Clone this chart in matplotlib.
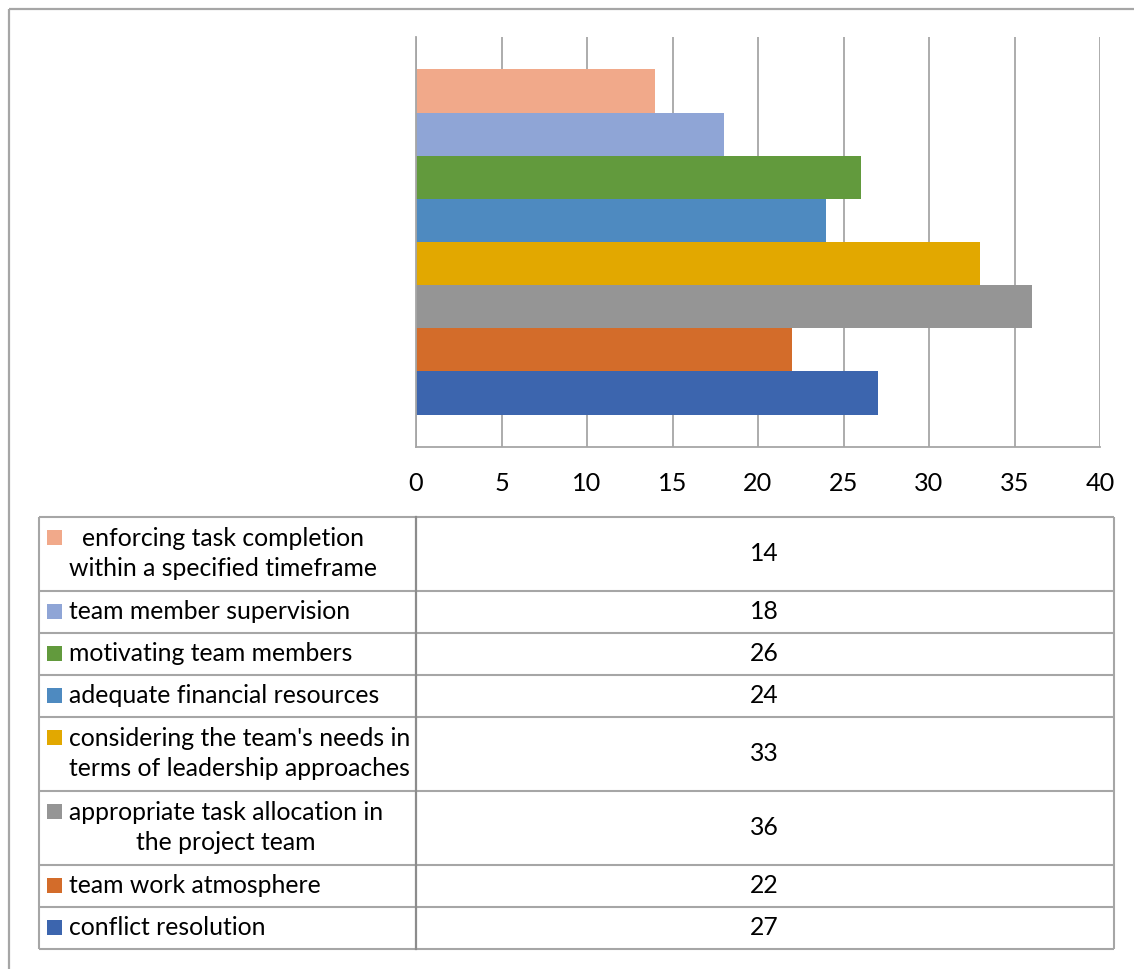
import matplotlib
matplotlib.use("Agg")
import matplotlib.pyplot as plt
from matplotlib.patches import Rectangle

plt.rcParams["font.family"] = ["Lato", "DejaVu Sans"]

# categories, top to bottom as in the chart and the data table
labels = [
    "enforcing task completion\nwithin a specified timeframe",
    "team member supervision",
    "motivating team members",
    "adequate financial resources",
    "considering the team's needs in\nterms of leadership approaches",
    "appropriate task allocation in\nthe project team",
    "team work atmosphere",
    "conflict resolution",
]
values = [14, 18, 26, 24, 33, 36, 22, 27]
colors = ["#F1A98A", "#8FA5D6", "#629A3D", "#4E8AC0",
          "#E2A800", "#959595", "#D36C2A", "#3C65AE"]
xticks = [0, 5, 10, 15, 20, 25, 30, 35, 40]

W, H = 1134, 969
FS = 17.8
GRID = "#A6A6A6"

fig = plt.figure(figsize=(W / 100, H / 100), dpi=100)

# overlay in pixel coordinates for the frame and the data table
over = fig.add_axes([0, 0, 1, 1], zorder=0)
over.set_xlim(0, W)
over.set_ylim(H, 0)
over.axis("off")
over.plot([8.5, W], [8.5, 8.5], color=GRID, lw=1.6, solid_capstyle="butt")
over.plot([8.5, 8.5], [8.5, H], color=GRID, lw=1.6, solid_capstyle="butt")

# bar chart
ax = fig.add_axes([416 / W, (H - 447) / H, 684 / W, 410 / H], zorder=1)
ax.patch.set_alpha(0)
n = len(values)
pos = [n - 1 - i for i in range(n)]
ax.barh(pos, values, height=1.0, color=colors, zorder=2)
ax.set_xlim(0, 40)
ax.set_ylim(-1.25, n - 1 + 1.25)
ax.set_xticks(xticks)
ax.set_xticklabels([str(t) for t in xticks], fontsize=FS + 0.4)
ax.set_yticks([])
ax.tick_params(axis="x", length=0, pad=18)
ax.grid(axis="x", color=GRID, lw=1.3, zorder=1)
for s in ["top", "right"]:
    ax.spines[s].set_visible(False)
for s in ["left", "bottom"]:
    ax.spines[s].set_color(GRID)
    ax.spines[s].set_linewidth(1.3)

# data table under the chart
x0, xmid, x1 = 38.5, 415.5, 1113.5
y = 516.5
rows = []
for lab in labels:
    h = 10 + 32 * len(lab.split("\n"))
    rows.append((y, h))
    y += h
ytop, ybot = rows[0][0], y
line_kw = dict(color=GRID, lw=1.5, solid_capstyle="butt")
for (r0, h) in rows:
    over.plot([x0, x1], [r0, r0], **line_kw)
over.plot([x0, x1], [ybot, ybot], **line_kw)
over.plot([x0, x0], [ytop, ybot], **line_kw)
over.plot([xmid, xmid], [ytop, ybot], color="#8C8C8C", lw=1.6)
over.plot([x1, x1], [ytop, ybot], **line_kw)

for (r0, h), lab, v, c in zip(rows, labels, values, colors):
    over.add_patch(Rectangle((47, r0 + 21 - 7.5), 15, 15, color=c, lw=0))
    over.text(69, r0 + h / 2, lab, ha="left", va="center", multialignment="center",
              fontsize=FS, color="#000000", linespacing=1.33)
    over.text((xmid + x1) / 2, r0 + h / 2, str(v), ha="center", va="center",
              fontsize=FS, color="#000000")

fig.savefig("out.png", dpi=100)
